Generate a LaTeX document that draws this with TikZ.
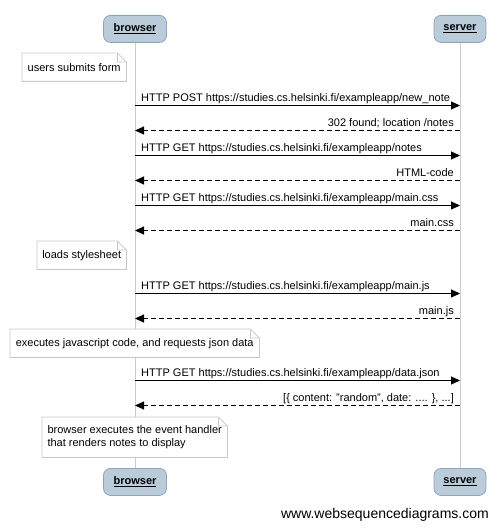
\documentclass[tikz,border=0pt]{standalone}
\usepackage{fontspec}
\setmainfont{Liberation Sans}
\usetikzlibrary{arrows.meta}
\definecolor{headfill}{HTML}{BACBDA}
\definecolor{headdraw}{HTML}{8FA5BE}
\definecolor{lifegray}{HTML}{CCCCCC}
\definecolor{notegray}{HTML}{C8C8C8}
\newcommand{\notefold}[1]{%
  \draw[notefr] (#1.north west) -- ([xshift=-9pt]#1.north east)
      -- ([yshift=-9pt]#1.north east) -- (#1.south east)
      -- (#1.south west) -- cycle
      ([xshift=-9pt]#1.north east) |- ([yshift=-9pt]#1.north east);}
\begin{document}
\begin{tikzpicture}[x=1pt,y=-1pt,
  head/.style={draw=headdraw, fill=headfill, rounded corners=7pt, line width=0.8pt,
    minimum height=27pt, inner sep=0pt, font=\fontsize{11}{13}\selectfont\bfseries},
  life/.style={draw=lifegray, line width=1pt},
  msg/.style={draw=black, line width=1pt, -{Triangle[length=9pt,width=8pt]}},
  reply/.style={msg, dash pattern=on 5pt off 3pt},
  lbl/.style={font=\fontsize{11}{13}\selectfont, inner sep=0pt},
  note/.style={fill=white, inner sep=0pt, anchor=north west, align=left,
    font=\fontsize{11}{13}\selectfont},
  notefr/.style={draw=notegray, line width=0.8pt},
  foot/.style={font=\fontsize{14}{16}\selectfont, inner sep=0pt}
]
\useasboundingbox (0,0) rectangle (500,529);

% participants
\node[head, minimum width=63pt, anchor=north] (bh) at (135,15) {\underline{browser}};
\node[head, minimum width=52pt, anchor=north] (sh) at (460,15) {\underline{server}};
\node[head, minimum width=63pt, anchor=north] (bf) at (135,468) {\underline{browser}};
\node[head, minimum width=52pt, anchor=north] (sf) at (460,468) {\underline{server}};

% lifelines
\draw[life] (bh.south) -- (bf.north);
\draw[life] (sh.south) -- (sf.north);

% notes
\node[note, minimum width=104pt, minimum height=28pt] (n1) at (22,53) {users submits form};
\notefold{n1}
\node[note, minimum width=89pt, minimum height=28pt] (n2) at (37,241) {loads stylesheet};
\notefold{n2}
\node[note, minimum width=249pt, minimum height=28pt] (n3) at (10,329) {executes javascript code, and requests json data};
\notefold{n3}
\node[note, minimum width=185pt, minimum height=40pt] (n4) at (42,417) {browser executes the event handler\\that renders notes to display};
\notefold{n4}

% message coordinates
\foreach \i/\y in {1/105.5,2/130.5,3/155.5,4/180.5,5/205.5,6/230.5,7/293.5,8/318.5,9/380.5,10/405.5}{
  \coordinate (b\i) at (135,\y);
  \coordinate (s\i) at (460,\y);
}

% messages
\draw[msg] (b1) -- (s1);
\node[lbl, anchor=base west] (l1) at ([xshift=6pt,yshift=4pt]b1) {HTTP POST https://studies.cs.helsinki.fi/exampleapp/new\_note};
\draw[reply] (s2) -- (b2);
\node[lbl, anchor=base east] (l2) at ([xshift=-6pt,yshift=4pt]s2) {302 found; location /notes};
\draw[msg] (b3) -- (s3);
\node[lbl, anchor=base west] (l3) at ([xshift=6pt,yshift=4pt]b3) {HTTP GET https://studies.cs.helsinki.fi/exampleapp/notes};
\draw[reply] (s4) -- (b4);
\node[lbl, anchor=base east] (l4) at ([xshift=-6pt,yshift=4pt]s4) {HTML-code};
\draw[msg] (b5) -- (s5);
\node[lbl, anchor=base west] (l5) at ([xshift=6pt,yshift=4pt]b5) {HTTP GET https://studies.cs.helsinki.fi/exampleapp/main.css};
\draw[reply] (s6) -- (b6);
\node[lbl, anchor=base east] (l6) at ([xshift=-6pt,yshift=4pt]s6) {main.css};
\draw[msg] (b7) -- (s7);
\node[lbl, anchor=base west] (l7) at ([xshift=6pt,yshift=4pt]b7) {HTTP GET https://studies.cs.helsinki.fi/exampleapp/main.js};
\draw[reply] (s8) -- (b8);
\node[lbl, anchor=base east] (l8) at ([xshift=-6pt,yshift=4pt]s8) {main.js};
\draw[msg] (b9) -- (s9);
\node[lbl, anchor=base west] (l9) at ([xshift=6pt,yshift=4pt]b9) {HTTP GET https://studies.cs.helsinki.fi/exampleapp/data.json};
\draw[reply] (s10) -- (b10);
\node[lbl, anchor=base east] (l10) at ([xshift=-6pt,yshift=4pt]s10) {[\{ content: "random", date: .... \}, ...]};

% footer
\node[foot, anchor=base east] (ft) at (489,518) {www.websequencediagrams.com};
\end{tikzpicture}
\end{document}
